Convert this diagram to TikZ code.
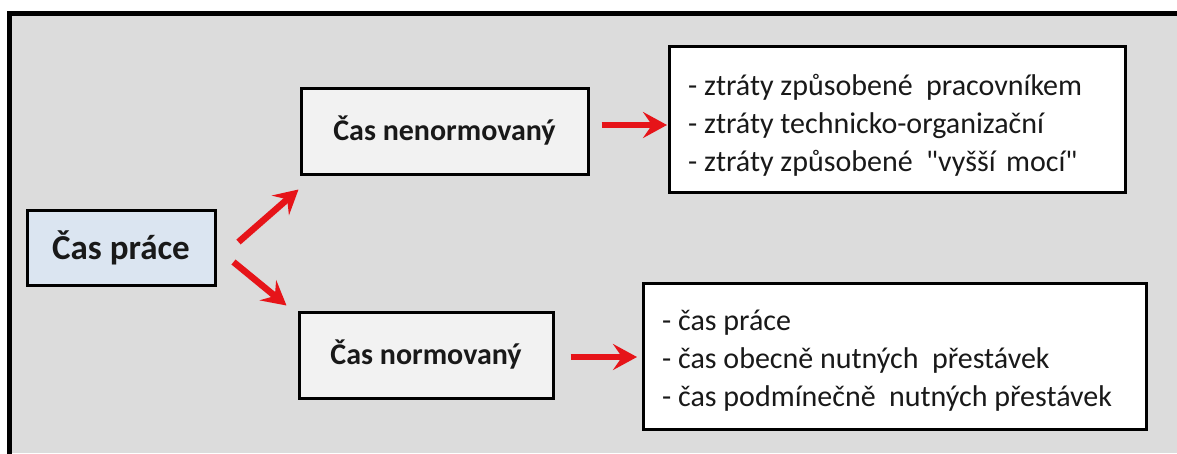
\documentclass[tikz,border=0pt]{standalone}
\usepackage{fontspec}
\setmainfont{Carlito}[Ligatures=TeXOff]
\usetikzlibrary{arrows.meta}
\definecolor{bggray}{RGB}{220,220,220}
\definecolor{blueish}{RGB}{219,229,241}
\definecolor{lightbox}{RGB}{242,242,242}
\definecolor{arrowred}{RGB}{230,20,25}
\definecolor{txt}{RGB}{25,25,25}
\begin{document}
\begin{tikzpicture}[x=1pt,y=-1pt,
  box/.style={draw=black, line width=3pt, text=txt, inner sep=0pt},
  mainbox/.style={box, fill=blueish, minimum width=188pt, minimum height=75pt, font=\fontsize{35}{42}\selectfont\bfseries},
  midbox/.style={box, fill=lightbox, minimum height=86pt, font=\fontsize{30}{36}\selectfont\bfseries},
  listbox/.style={box, fill=white, minimum height=146pt, anchor=west},
  listtext/.style={text=txt, inner sep=0pt, align=left, anchor=west, font=\fontsize{30}{38}\selectfont},
  redarrow/.style={draw=arrowred, line width=6.5pt, -{Stealth[length=24pt,width=26pt,inset=9pt]}}
]
\useasboundingbox (0,0) rectangle (1177,453);
\fill[white] (0,0) rectangle (1177,453);
\fill[bggray] (9.5,13.5) rectangle (1177,453);
\draw[line width=4.5pt, line join=miter] (9.5,460) -- (9.5,13.5) -- (1180,13.5);

\node[mainbox] (prace) at (121,247.5) {Čas práce};
\node[midbox, minimum width=287pt] (nenorm) at (444.5,131) {Čas nenormovaný};
\node[midbox, minimum width=254pt] (norm) at (426,355) {Čas normovaný};
\node[listbox, minimum width=456pt] (list1) at (668,119) {};
\node[listtext] (list1t) at ([xshift=20pt,yshift=-6.5pt]list1.west) {- ztráty způsobené\hspace{0.45em}pracovníkem\\- ztráty technicko-organizační\\- ztráty způsobené\hspace{0.45em}"vyšší\hspace{0.35em}mocí"};
\node[listbox, minimum width=503pt] (list2) at (642,356) {};
\node[listtext] (list2t) at ([xshift=20pt,yshift=-5pt]list2.west) {- čas práce\\- čas obecně nutných\hspace{0.45em}přestávek\\- čas podmínečně\hspace{0.45em}nutných přestávek};

\draw[redarrow] ([xshift=22pt,yshift=5.5pt]prace.east) -- ([xshift=-1pt,yshift=-14pt]nenorm.south west);
\draw[redarrow] ([xshift=17pt,yshift=-14.5pt]prace.east) -- ([xshift=-11pt,yshift=5pt]norm.north west);
\draw[redarrow] ([xshift=12pt,yshift=6pt]nenorm.east) -- ([xshift=-1pt,yshift=-6pt]list1.west);
\draw[redarrow] ([xshift=16pt,yshift=-2pt]norm.east) -- ([xshift=-5pt,yshift=-1pt]list2.west);
\end{tikzpicture}
\end{document}
